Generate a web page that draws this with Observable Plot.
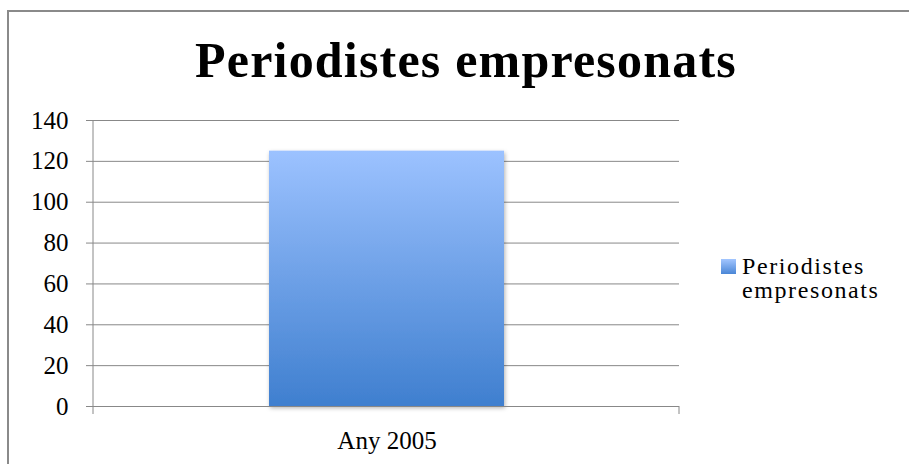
<!DOCTYPE html>
<html>
<head>
<meta charset="utf-8">
<script src="https://cdn.jsdelivr.net/npm/d3@7"></script>
<script src="https://cdn.jsdelivr.net/npm/@observablehq/plot@0.6"></script>
<style>
  html, body { margin: 0; padding: 0; background: #fff; overflow: hidden; }
  #wrap { position: relative; width: 909px; height: 464px; overflow: hidden; font-family: "Liberation Serif", serif; }
  #border { position: absolute; left: 7px; top: 10px; width: 920px; height: 480px; border: 2px solid #8a8a8a; box-sizing: border-box; }
  #title { position: absolute; left: 0; width: 932px; top: 32px; text-align: center; font-weight: bold; font-size: 50px; letter-spacing: 1.2px; color: #000; line-height: 56px; }
  #legend { position: absolute; left: 721px; top: 254px; font-size: 24px; letter-spacing: 1.6px; color: #000; line-height: 24px; }
  #legend .sw { position: absolute; left: 0; top: 5px; width: 15px; height: 15px; background: linear-gradient(#a3c6ff, #4a86d6); }
  #legend .txt { position: absolute; left: 21px; top: 0; white-space: nowrap; }
  #chart { position: absolute; left: 0; top: 0; }
</style>
</head>
<body>
<div id="wrap">
  <div id="border"></div>
  <div id="chart"></div>
  <div id="title"></div>
  <div id="legend"><div class="sw"></div><div class="txt"></div></div>
</div>
<script>
const titleText = "Periodistes empresonats";
const seriesName = "Periodistes empresonats";
const categories = ["Any 2005"];
const values = [125];
const yTicks = [0, 20, 40, 60, 80, 100, 120, 140];

document.getElementById("title").textContent = titleText;
document.querySelector("#legend .txt").innerHTML = "Periodistes<br>empresonats";

const data = categories.map((c, i) => ({category: c, value: values[i]}));
const NS = "http://www.w3.org/2000/svg";

function gradientDefs() {
  const defs = document.createElementNS(NS, "defs");
  const lg = document.createElementNS(NS, "linearGradient");
  lg.setAttribute("id", "barGrad");
  lg.setAttribute("x1", "0"); lg.setAttribute("y1", "0");
  lg.setAttribute("x2", "0"); lg.setAttribute("y2", "1");
  [["0%", "#9cc2ff"], ["100%", "#3f7fcf"]].forEach(([o, c]) => {
    const s = document.createElementNS(NS, "stop");
    s.setAttribute("offset", o); s.setAttribute("stop-color", c);
    lg.appendChild(s);
  });
  defs.appendChild(lg);
  const f = document.createElementNS(NS, "filter");
  f.setAttribute("id", "shadow");
  f.setAttribute("x", "-10%"); f.setAttribute("y", "-10%");
  f.setAttribute("width", "120%"); f.setAttribute("height", "120%");
  const ds = document.createElementNS(NS, "feDropShadow");
  ds.setAttribute("dx", "1"); ds.setAttribute("dy", "2");
  ds.setAttribute("stdDeviation", "2");
  ds.setAttribute("flood-color", "#000");
  ds.setAttribute("flood-opacity", "0.3");
  f.appendChild(ds);
  defs.appendChild(f);
  return defs;
}

function axisLines(index, scales, values, dims) {
  const g = document.createElementNS(NS, "g");
  const y0 = scales.y(0);
  const yTop = scales.y(yTicks[yTicks.length - 1]);
  const xl = dims.marginLeft;
  const xr = dims.width - dims.marginRight;
  const lines = [[xl, yTop, xl, y0 + 8], [xr, y0, xr, y0 + 8]];
  for (const [a, b, c, d] of lines) {
    const l = document.createElementNS(NS, "line");
    l.setAttribute("x1", a); l.setAttribute("y1", b);
    l.setAttribute("x2", c); l.setAttribute("y2", d);
    l.setAttribute("stroke", "#888");
    l.setAttribute("stroke-width", "1");
    g.appendChild(l);
  }
  return g;
}

const plot = Plot.plot({
  width: 909,
  height: 464,
  marginLeft: 93,
  marginRight: 230,
  marginTop: 120,
  marginBottom: 58,
  style: {fontFamily: "Liberation Serif, serif", fontSize: "25px", color: "#000", background: "transparent", overflow: "visible"},
  x: {domain: categories, padding: 0.428, label: null},
  y: {domain: [0, 140], label: null},
  marks: [
    gradientDefs,
    Plot.gridY(yTicks, {stroke: "#888", strokeOpacity: 1, strokeWidth: 1}),
    Plot.barY(data, {x: "category", y: "value", fill: "url(#barGrad)"}),
    Plot.ruleY([0], {stroke: "#888", strokeWidth: 1}),
    axisLines,
    Plot.axisY({ticks: yTicks, tickSize: 7, tickPadding: 18, stroke: "#888", fill: "#000", label: null, style: {letterSpacing: "1.2px"}}),
    Plot.axisX({tickSize: 0, tickPadding: 25, fill: "#000", label: null, style: {letterSpacing: "1.5px", fontSize: "24px"}})
  ]
});
plot.querySelectorAll("[fill='url(#barGrad)'] rect, rect[fill='url(#barGrad)']").forEach(r => r.setAttribute("filter", "url(#shadow)"));
document.getElementById("chart").appendChild(plot);
</script>
</body>
</html>
